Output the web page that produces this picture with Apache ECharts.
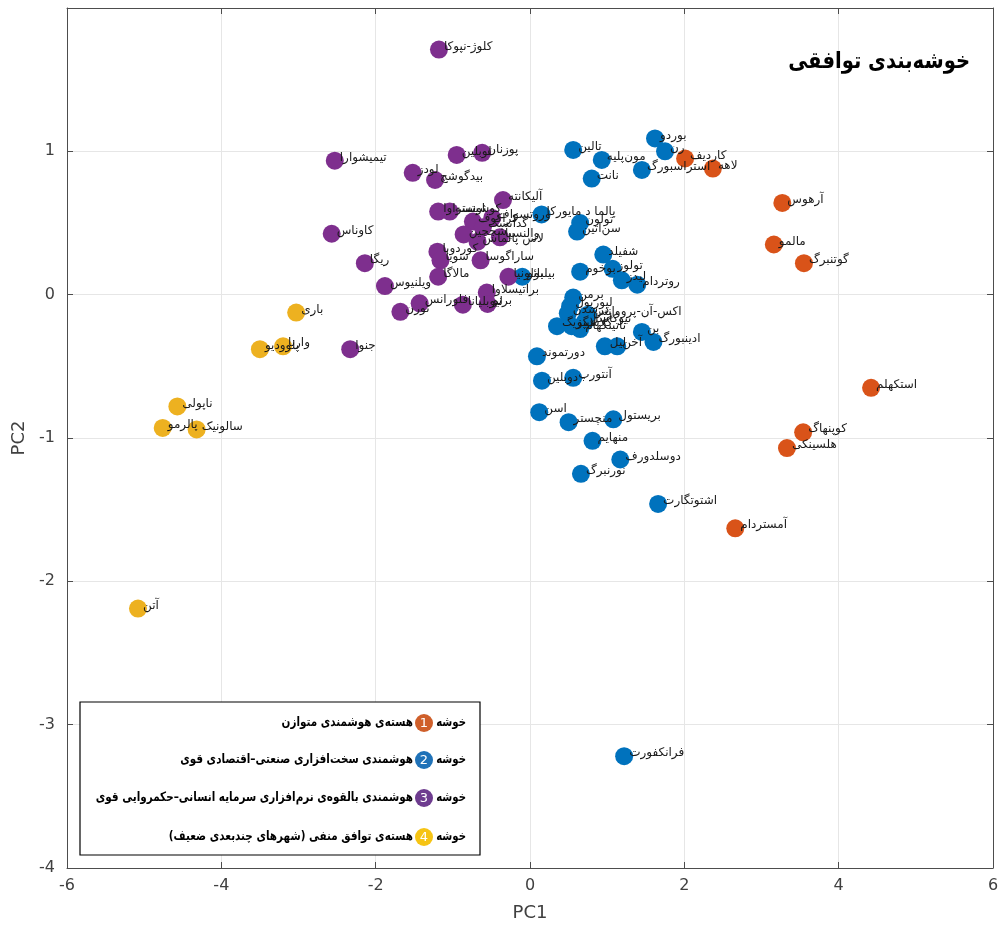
<!DOCTYPE html>
<html lang="fa">
<head>
<meta charset="utf-8">
<title>خوشه‌بندی توافقی</title>
<script src="https://cdn.jsdelivr.net/npm/echarts@6/dist/echarts.min.js"></script>
<style>
  html, body { margin: 0; padding: 0; background: #fff; }
  #chart { width: 1002px; height: 927px; }
</style>
</head>
<body>
<div id="chart"></div>
<script>
// PCA scores (PC1, PC2) of the cities, grouped by consensus cluster

// Cluster 1 — balanced smart core
const cluster1Names = ['کاردیف', 'لاهه', 'آرهوس', 'مالمو', 'گوتنبرگ', 'استکهلم', 'کوپنهاگ', 'هلسینکی', 'آمستردام'];
const cluster1Points = [
  [2.01, 0.95], [2.37, 0.88], [3.27, 0.64], [3.16, 0.35], [3.55, 0.22],
  [4.42, -0.65], [3.54, -0.96], [3.33, -1.07], [2.66, -1.63]
];

// Cluster 2 — strong industrial/economic hardware smartness
const cluster2Names = [
  'بوردو', 'رن', 'تالین', 'مون‌پلیه', 'استراسبورگ', 'نانت', 'پالما د مایورکا', 'تولون', 'سن‌اتین',
  'بیلبائو', 'شفیلد', 'بوخوم', 'تولوز', 'لیدز', 'روتردام', 'برمن', 'لیورپول', 'درسدن',
  'اکس-آن-پرووانس', 'لایپزیگ', 'گلاسگو', 'ناتینگهام', 'نیوکاسل', 'بن', 'ادینبورگ', 'لیل', 'آخن',
  'دورتموند', 'آنتورپ', 'دوبلین', 'اسن', 'منچستر', 'بریستول', 'منهایم', 'دوسلدورف', 'نورنبرگ',
  'اشتوتگارت', 'فرانکفورت'
];
const cluster2Points = [
  [1.62, 1.09], [1.75, 1.00], [0.56, 1.01], [0.93, 0.94], [1.45, 0.87], [0.80, 0.81], [0.15, 0.56], [0.65, 0.50], [0.61, 0.44],
  [-0.10, 0.125], [0.95, 0.28], [0.65, 0.16], [1.07, 0.18], [1.19, 0.10], [1.39, 0.07], [0.56, -0.02], [0.52, -0.08], [0.49, -0.13],
  [0.75, -0.14], [0.35, -0.22], [0.54, -0.22], [0.65, -0.24], [0.71, -0.19], [1.45, -0.26], [1.60, -0.33], [0.97, -0.36], [1.13, -0.36],
  [0.09, -0.43], [0.56, -0.58], [0.155, -0.60], [0.12, -0.82], [0.50, -0.89], [1.08, -0.87], [0.81, -1.02], [1.17, -1.15], [0.66, -1.25],
  [1.66, -1.46], [1.22, -3.22]
];

// Cluster 3 — potential software smartness (human capital / governance)
const cluster3Names = [
  'کلوژ-نپوکا', 'تیمیشوارا', 'لودز', 'بیدگوشچ', 'لوبلین', 'پوزنان', 'آلیکانته', 'اوستراوا', 'کوشیتسه',
  'وروتسواف', 'کراکوف', 'گدانسک', 'شچچین', 'والنسیا', 'لاس پالماس', 'کوردوبا', 'سویا', 'ساراگوسا',
  'مالاگا', 'بولونیا', 'براتیسلاوا', 'برنو', 'لیوبلیانا', 'ویلنیوس', 'ریگا', 'کاوناس', 'تورن', 'فلورانس', 'جنوا'
];
const cluster3Points = [
  [-1.18, 1.71], [-2.53, 0.935], [-1.52, 0.85], [-1.23, 0.80], [-0.95, 0.975], [-0.62, 0.99], [-0.35, 0.66], [-1.19, 0.58], [-1.04, 0.58],
  [-0.49, 0.535], [-0.74, 0.51], [-0.61, 0.47], [-0.86, 0.42], [-0.39, 0.40], [-0.68, 0.37], [-1.20, 0.30], [-1.16, 0.24], [-0.64, 0.24],
  [-1.19, 0.125], [-0.28, 0.125], [-0.56, 0.015], [-0.55, -0.065], [-0.87, -0.07], [-1.88, 0.06], [-2.14, 0.22], [-2.57, 0.425], [-1.68, -0.12], [-1.43, -0.06], [-2.33, -0.38]
];

// Cluster 4 — negative consensus core (weak multidimensional cities)
const cluster4Names = ['آتن', 'ناپولی', 'پالرمو', 'سالونیک', 'باری', 'پلوودیو', 'وارنا'];
const cluster4Points = [
  [-5.08, -2.19], [-4.57, -0.78], [-4.76, -0.93], [-4.32, -0.94], [-3.03, -0.125], [-3.50, -0.38], [-3.20, -0.36]
];

// Axis ticks and legend wording
const xTicks = [-6, -4, -2, 0, 2, 4, 6];
const yTicks = [-4, -3, -2, -1, 0, 1];
const legendWord = 'خوشه';
const legendNumbers = ['1', '2', '3', '4'];
const legendTexts = [
  'هسته‌ی هوشمندی متوازن',
  'هوشمندی سخت‌افزاری صنعتی–اقتصادی قوی',
  'هوشمندی بالقوه‌ی نرم‌افزاری سرمایه انسانی–حکمروایی قوی',
  'هسته‌ی توافق منفی (شهرهای چندبعدی ضعیف)'
];
const chartTitle = 'خوشه‌بندی توافقی';

const colors = ['#D95319', '#0072BD', '#7E2F8E', '#EDB120'];
const legendColors = ['#CF5F2A', '#1F72B8', '#6E3C8F', '#F6C414'];
const FONT = '"DejaVu Sans", "Noto Sans", sans-serif';

const clusters = [
  [cluster1Names, cluster1Points],
  [cluster2Names, cluster2Points],
  [cluster3Names, cluster3Points],
  [cluster4Names, cluster4Points]
];

const series = clusters.map(([names, pts], i) => ({
  type: 'scatter',
  name: legendNumbers[i],
  symbolSize: 18,
  itemStyle: { color: colors[i], opacity: 1 },
  data: pts.map((p, k) => ({ value: p, name: names[k] })),
  label: {
    show: true,
    formatter: (d) => d.name,
    position: [14, 6],
    align: 'left',
    verticalAlign: 'middle',
    fontFamily: FONT,
    fontSize: 12,
    color: '#1a1a1a'
  },
  labelLayout: { hideOverlap: false },
  emphasis: { disabled: true },
  z: 3
}));

const axisLineStyle = { color: '#4d4d4d', width: 1 };
const tickStyle = { show: true, inside: true, length: 6, lineStyle: axisLineStyle };

// Title (heavy, condensed) in the upper-right corner of the plot
const graphics = [{
  type: 'text', x: 970, y: 62, scaleX: 0.85, z: 11,
  style: { text: chartTitle, align: 'right', verticalAlign: 'middle', font: 'bold 23px ' + FONT, fill: '#000' }
}];

// Legend box with numbered coloured badges
graphics.push({
  type: 'rect',
  shape: { x: 80, y: 702, width: 400, height: 153 },
  style: { fill: '#ffffff', stroke: '#000000', lineWidth: 1.2 },
  z: 10
});
const rowY = [723, 760, 798, 837];
legendTexts.forEach((t, i) => {
  graphics.push({
    type: 'text', x: 466, y: rowY[i], scaleX: 0.78, z: 11,
    style: { text: legendWord, align: 'right', verticalAlign: 'middle', font: 'bold 13px ' + FONT, fill: '#000' }
  });
  graphics.push({
    type: 'circle', shape: { cx: 424, cy: rowY[i], r: 9 }, z: 11,
    style: { fill: legendColors[i] }
  });
  graphics.push({
    type: 'text', x: 424, y: rowY[i] + 1, z: 12,
    style: { text: legendNumbers[i], align: 'center', verticalAlign: 'middle', font: '13px ' + FONT, fill: '#fff' }
  });
  graphics.push({
    type: 'text', x: 413, y: rowY[i], scaleX: 0.8, z: 11,
    style: { text: t, align: 'right', verticalAlign: 'middle', font: 'bold 13px ' + FONT, fill: '#000' }
  });
});

const option = {
  backgroundColor: '#ffffff',
  animation: false,
  textStyle: { fontFamily: FONT },
  grid: { left: 67, right: 9, top: 8, bottom: 57, containLabel: false },
  xAxis: [{
    type: 'value', min: xTicks[0], max: xTicks[xTicks.length - 1], interval: 2,
    position: 'bottom',
    name: 'PC1', nameLocation: 'middle', nameGap: 36,
    nameTextStyle: { fontFamily: FONT, fontSize: 18, color: '#404040' },
    axisLine: { show: true, onZero: false, lineStyle: axisLineStyle },
    axisTick: tickStyle,
    axisLabel: { fontFamily: FONT, fontSize: 16, color: '#404040', margin: 10 },
    splitLine: { show: true, lineStyle: { color: '#e6e6e6', width: 1 } }
  }, {
    type: 'value', min: xTicks[0], max: xTicks[xTicks.length - 1], interval: 2,
    position: 'top',
    axisLine: { show: true, onZero: false, lineStyle: axisLineStyle },
    axisTick: tickStyle,
    axisLabel: { show: false },
    splitLine: { show: false }
  }],
  yAxis: [{
    type: 'value', min: -4, max: 2, interval: 1,
    position: 'left',
    name: 'PC2', nameLocation: 'middle', nameGap: 38, nameRotate: 90,
    nameTextStyle: { fontFamily: FONT, fontSize: 18, color: '#404040' },
    axisLine: { show: true, onZero: false, lineStyle: axisLineStyle },
    axisTick: tickStyle,
    axisLabel: {
      fontFamily: FONT, fontSize: 16, color: '#404040', margin: 12,
      formatter: (v) => (yTicks.indexOf(v) >= 0 ? String(v) : '')
    },
    splitLine: { show: true, lineStyle: { color: '#e6e6e6', width: 1 } }
  }, {
    type: 'value', min: -4, max: 2, interval: 1,
    position: 'right',
    axisLine: { show: true, onZero: false, lineStyle: axisLineStyle },
    axisTick: tickStyle,
    axisLabel: { show: false },
    splitLine: { show: false }
  }],
  graphic: graphics,
  series: series
};

const chart = echarts.init(document.getElementById('chart'), null, { renderer: 'canvas' });
chart.setOption(option);
</script>
</body>
</html>
